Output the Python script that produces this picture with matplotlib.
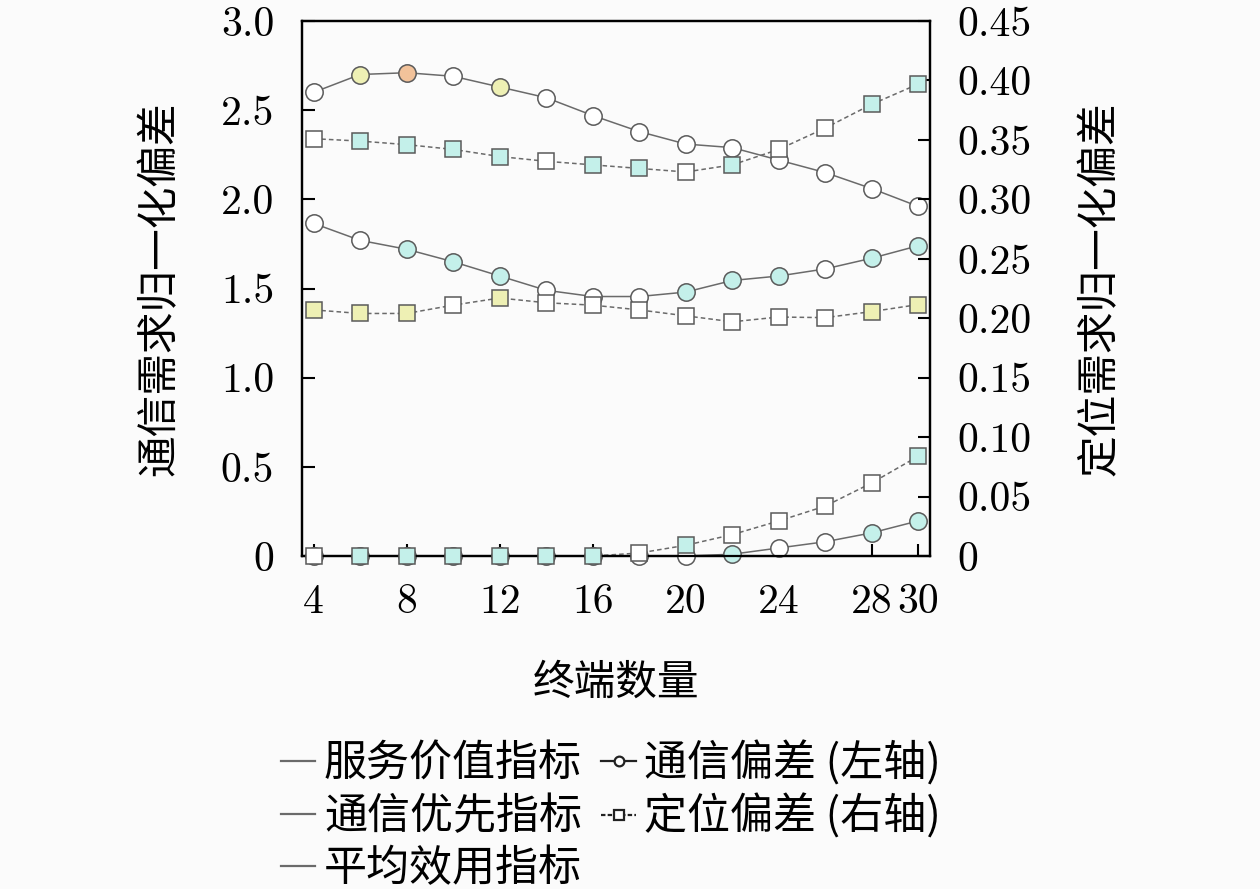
import matplotlib
matplotlib.use("Agg")
import matplotlib.pyplot as plt
from matplotlib.lines import Line2D

# -------------------------
# Data
# -------------------------
terminals = [4, 6, 8, 10, 12, 14, 16, 18, 20, 22, 24, 26, 28, 30]

# communication deviation (left axis), one list per index
comm_value = [2.60, 2.70, 2.71, 2.69, 2.63, 2.57, 2.47, 2.38, 2.31, 2.29, 2.22, 2.15, 2.06, 1.96]
comm_priority = [1.865, 1.77, 1.72, 1.65, 1.57, 1.49, 1.455, 1.455, 1.48, 1.545, 1.57, 1.61, 1.67, 1.74]
comm_average = [0, 0, 0, 0, 0, 0, 0, 0, 0.0, 0.01, 0.045, 0.08, 0.13, 0.197]

# positioning deviation (right axis)
pos_value = [0.351, 0.349, 0.346, 0.342, 0.336, 0.332, 0.329, 0.326, 0.323, 0.329, 0.342, 0.360, 0.380, 0.397]
pos_priority = [0.207, 0.204, 0.204, 0.211, 0.217, 0.213, 0.211, 0.207, 0.202, 0.197, 0.201, 0.2005, 0.2056, 0.2115]
pos_average = [0, 0, 0, 0, 0, 0, 0, 0.0025, 0.009, 0.018, 0.0295, 0.042, 0.0615, 0.084]

# marker fill class per point (w = none, c / y / o = highlighted)
fill_comm_value = "wyowywwwwwwwww"
fill_comm_priority = "wwcccwwwcccwcc"
fill_comm_average = "wccccccwwcwwcc"
fill_pos_value = "wccccwccwcwwcc"
fill_pos_priority = "yyywywwwwwwwyy"
fill_pos_average = "wccccccwcwwwwc"

left_ticks = [0, 0.5, 1.0, 1.5, 2.0, 2.5, 3.0]
left_labels = ["0", "0.5", "1.0", "1.5", "2.0", "2.5", "3.0"]
right_ticks = [0, 0.05, 0.10, 0.15, 0.20, 0.25, 0.30, 0.35, 0.40, 0.45]
right_labels = ["0", "0.05", "0.10", "0.15", "0.20", "0.25", "0.30", "0.35", "0.40", "0.45"]
x_ticks = [4, 8, 12, 16, 20, 24, 28, 30]

index_names = ["服务价值指标", "通信优先指标", "平均效用指标"]
dev_names = ["通信偏差 (左轴)", "定位偏差 (右轴)"]

# -------------------------
# Style
# -------------------------
FILL = {"w": "white", "c": "#c4f0ea", "y": "#eef0b4", "o": "#f2c29a"}
LINE_C = "#6a6a6a"
EDGE_C = "#5a5a5a"
BG = "#fbfbfb"
CJK = ["Noto Sans CJK SC", "DejaVu Sans"]
NUM = "cmr10"
FS = 30

fig = plt.figure(figsize=(12.6, 8.89), dpi=100, facecolor=BG)
ax = fig.add_axes([302 / 1260, 1 - 556 / 889, 628 / 1260, 535 / 889])
ax.set_facecolor(BG)
ax2 = ax.twinx()


def draw(axis, ys, fills, marker, ls, ms):
    axis.plot(terminals, ys, color=LINE_C, lw=1.1, ls=ls, zorder=2, clip_on=False)
    for xv, yv, f in zip(terminals, ys, fills):
        axis.plot(xv, yv, marker=marker, ms=ms, mfc=FILL[f], mec=EDGE_C,
                  mew=1.1, ls="none", zorder=3, clip_on=False)


draw(ax, comm_value, fill_comm_value, "o", "-", 12.5)
draw(ax, comm_priority, fill_comm_priority, "o", "-", 12.5)
draw(ax, comm_average, fill_comm_average, "o", "-", 12.5)
draw(ax2, pos_value, fill_pos_value, "s", (0, (3, 2)), 11.5)
draw(ax2, pos_priority, fill_pos_priority, "s", (0, (3, 2)), 11.5)
draw(ax2, pos_average, fill_pos_average, "s", (0, (3, 2)), 11.5)

ax.set_xlim(3.5, 30.5)
ax.set_ylim(0, 3.0)
ax2.set_ylim(0, 0.45)

ax.set_xticks(x_ticks)
ax.set_xticklabels([str(t) for t in x_ticks], fontfamily=NUM, fontsize=FS)
ax.set_yticks(left_ticks)
ax.set_yticklabels(left_labels, fontfamily=NUM, fontsize=FS)
ax2.set_yticks(right_ticks)
ax2.set_yticklabels(right_labels, fontfamily=NUM, fontsize=FS)

ax.tick_params(axis="both", direction="in", length=9, width=1.5, pad=20,
               top=False, right=False)
ax2.tick_params(axis="y", direction="in", length=9, width=1.5, pad=20)
for a in (ax, ax2):
    for s in a.spines.values():
        s.set_linewidth(1.6)

ax.set_xlabel("终端数量", fontfamily=CJK, fontsize=FS, va="center")
ax.xaxis.set_label_coords(0.5, -0.237)
ax.set_ylabel("通信需求归一化偏差", fontfamily=CJK, fontsize=FS, va="center")
ax.yaxis.set_label_coords(-0.226, 0.5)
ax2.set_ylabel("定位需求归一化偏差", fontfamily=CJK, fontsize=FS, va="center")
ax2.yaxis.set_label_coords(1.271, 0.5)

# -------------------------
# Legend below the plot
# -------------------------
handles = [Line2D([], [], color=LINE_C, lw=1.6) for _ in index_names]
handles.append(Line2D([], [], color="#222222", lw=1.6, marker="o", ms=7,
                      mfc="white", mec="#222222", mew=1.6))
handles.append(Line2D([], [], color="#222222", lw=1.6, ls=(0, (2, 1)), marker="s",
                      ms=7, mfc="white", mec="#222222", mew=1.6))
fig.legend(handles, index_names + dev_names, loc="upper left",
           bbox_to_anchor=(281 / 1260, 1 - 741 / 889), ncol=2, frameon=False,
           prop={"family": CJK, "size": 31}, handlelength=0.8,
           handletextpad=0.2, columnspacing=0.45, labelspacing=0.2,
           borderpad=0, borderaxespad=0)

fig.savefig("out.png", dpi=100, facecolor=BG)
